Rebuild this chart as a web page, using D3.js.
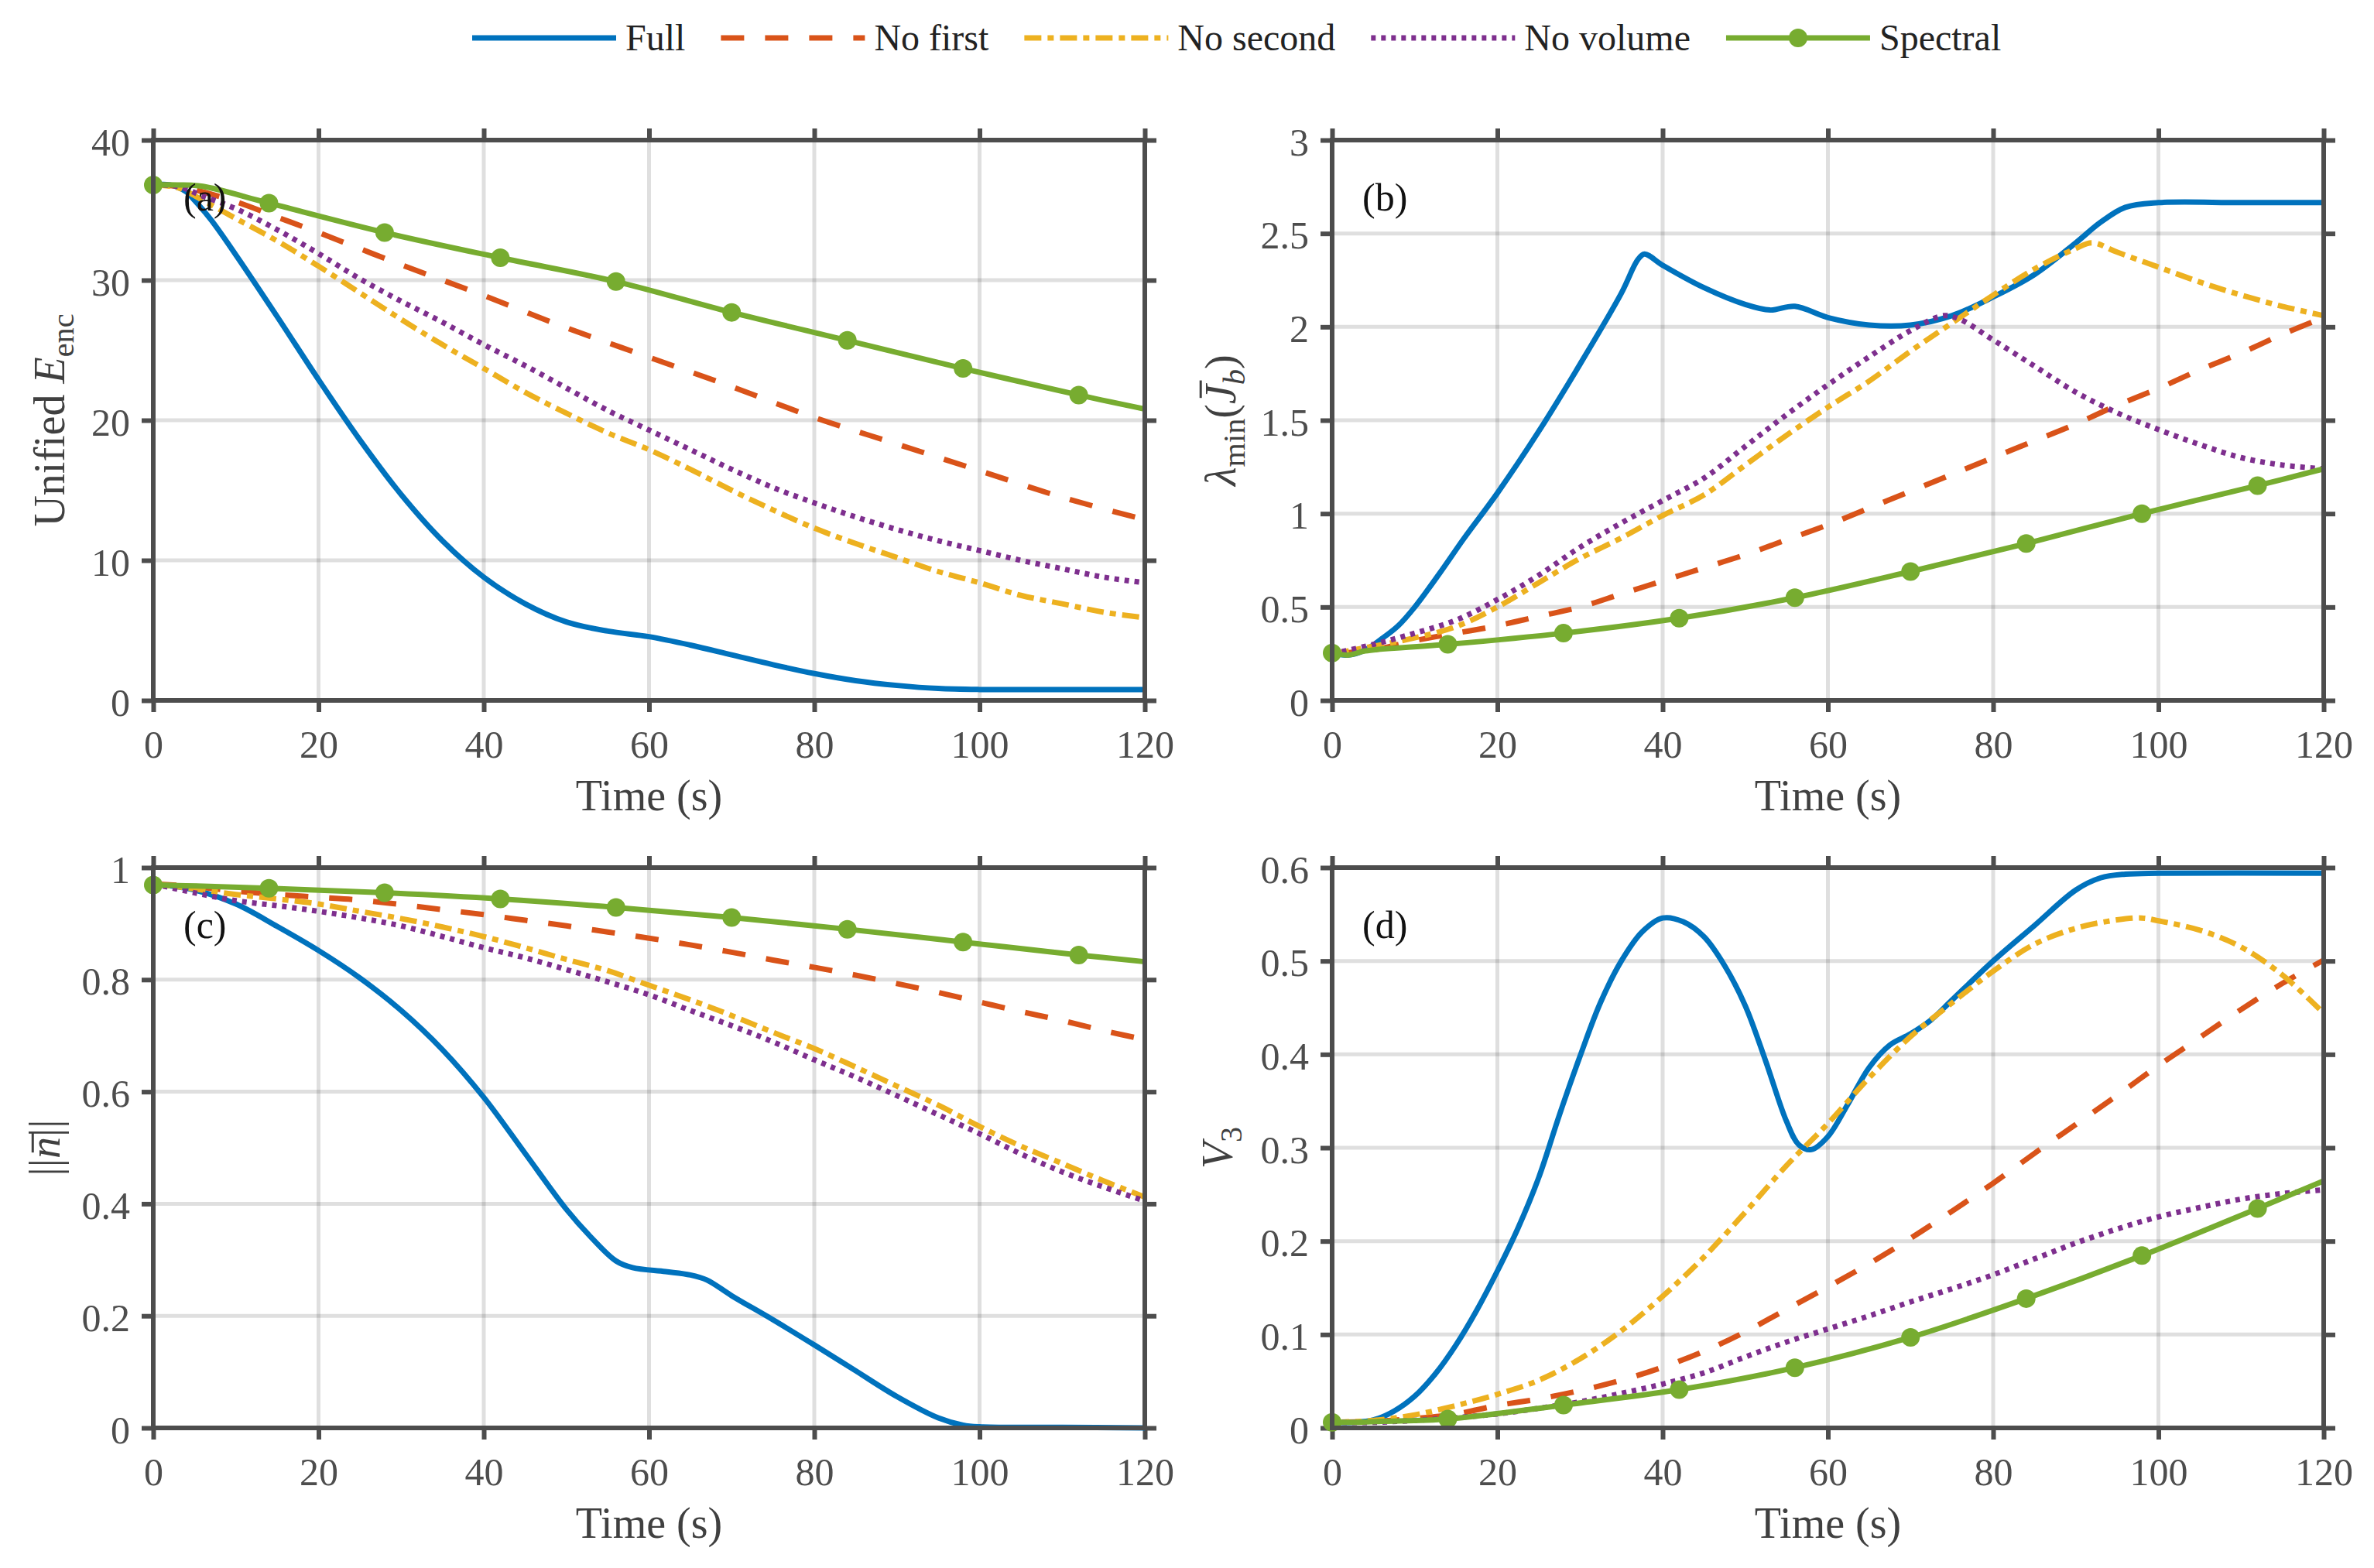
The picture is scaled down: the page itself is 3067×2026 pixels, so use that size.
<!DOCTYPE html>
<html>
<head>
<meta charset="utf-8">
<script src="https://cdn.jsdelivr.net/npm/d3@7"></script>
<style>
  html, body { margin: 0; padding: 0; background: #fff; }
  svg { display: block; font-family: "Liberation Serif", "Times New Roman", serif; }
</style>
</head>
<body>
<div id="chart"></div>
<script>
// ---- data: [time (s), value] ----
var legendNames = ["Full", "No first", "No second", "No volume", "Spectral"];
var xTicks = [0, 20, 40, 60, 80, 100, 120];

// (a) unified encirclement energy
var yTicksA = [0, 10, 20, 30, 40];
var fullA = [[0,36.8],[2,36.8],[4,36.3],[5,35.7],[7,34.3],[10,31.8],[15,27.4],[20,22.9],[25,18.6],[30,14.7],[35,11.4],[40,8.8],[45,6.9],[50,5.6],[55,4.95],[60,4.55],[65,3.95],[70,3.25],[75,2.55],[80,1.92],[85,1.41],[90,1.07],[95,0.85],[100,0.78],[110,0.78],[120,0.78]];
var noFirstA = [[0,36.8],[3,36.7],[6,36.3],[10,35.6],[15,34.5],[20,33.4],[30,31.1],[40,28.9],[50,26.6],[60,24.5],[70,22.4],[80,20.2],[90,18.3],[100,16.4],[110,14.5],[120,12.9]];
var noSecondA = [[0,36.8],[3,36.6],[6,35.7],[10,34.4],[15,32.8],[20,31.0],[25,29.1],[30,27.2],[35,25.4],[40,23.7],[45,22.0],[50,20.5],[55,19.1],[60,17.9],[65,16.5],[70,15.0],[75,13.6],[80,12.3],[85,11.2],[90,10.2],[95,9.2],[100,8.4],[105,7.5],[110,6.9],[115,6.3],[120,5.9]];
var noVolumeA = [[0,36.8],[3,36.7],[6,36.0],[10,35.1],[15,33.6],[20,31.9],[25,30.1],[30,28.5],[35,27.0],[40,25.4],[45,23.9],[50,22.3],[55,20.7],[60,19.3],[65,17.9],[70,16.5],[75,15.2],[80,14.1],[85,13.1],[90,12.2],[95,11.4],[100,10.7],[105,10.0],[110,9.4],[115,8.8],[120,8.4]];
var spectralA = [[0,36.8],[3,36.8],[6,36.7],[14,35.5],[28,33.4],[42,31.6],[56,29.9],[70,27.7],[84,25.7],[98,23.7],[112,21.8],[120,20.8]];

// (b) minimum eigenvalue
var yTicksB = [0, 0.5, 1, 1.5, 2, 2.5, 3];
var fullB = [[0,0.254],[2,0.243],[4,0.27],[6,0.33],[8,0.40],[10,0.50],[13,0.68],[16,0.87],[20,1.11],[25,1.44],[30,1.80],[35,2.18],[37,2.36],[37.8,2.39],[40,2.33],[45,2.21],[50,2.12],[53,2.09],[56,2.11],[60,2.05],[65,2.01],[70,2.01],[75,2.06],[80,2.16],[85,2.28],[90,2.45],[93,2.56],[96,2.64],[100,2.665],[110,2.665],[120,2.665]];
var noFirstB = [[0,0.25],[5,0.27],[10,0.32],[15,0.36],[20,0.40],[25,0.45],[30,0.50],[35,0.57],[40,0.64],[45,0.71],[50,0.78],[55,0.86],[60,0.94],[65,1.03],[70,1.12],[75,1.21],[80,1.30],[85,1.39],[90,1.48],[95,1.58],[100,1.67],[105,1.77],[110,1.86],[115,1.96],[120,2.05]];
var noSecondB = [[0,0.25],[5,0.29],[10,0.335],[15,0.395],[20,0.50],[25,0.63],[30,0.76],[35,0.87],[40,0.99],[45,1.10],[50,1.26],[55,1.42],[60,1.57],[65,1.71],[70,1.87],[75,2.02],[80,2.17],[85,2.31],[90,2.42],[92,2.45],[95,2.40],[100,2.32],[105,2.24],[110,2.17],[115,2.11],[120,2.06]];
var noVolumeB = [[0,0.25],[5,0.30],[10,0.36],[15,0.43],[20,0.54],[25,0.67],[30,0.82],[35,0.95],[40,1.07],[45,1.19],[50,1.36],[55,1.53],[60,1.69],[65,1.84],[70,1.98],[74,2.06],[76,2.04],[80,1.93],[85,1.79],[90,1.65],[95,1.54],[100,1.45],[105,1.37],[110,1.30],[115,1.26],[120,1.24]];
var spectralB = [[0,0.254],[2,0.243],[4,0.265],[14,0.30],[28,0.36],[42,0.44],[56,0.55],[70,0.69],[84,0.84],[98,1.0],[112,1.15],[120,1.24]];

// (c) norm of n-bar
var yTicksC = [0, 0.2, 0.4, 0.6, 0.8, 1];
var fullC = [[0,0.971],[5,0.960],[10,0.935],[15,0.895],[20,0.852],[25,0.803],[30,0.745],[35,0.675],[40,0.59],[45,0.49],[50,0.39],[53,0.34],[56,0.298],[58,0.286],[62,0.279],[65,0.273],[67,0.264],[70,0.236],[75,0.193],[80,0.148],[85,0.102],[90,0.056],[95,0.018],[98,0.005],[100,0.002],[110,0.001],[120,0.0]];
var noFirstC = [[0,0.971],[5,0.966],[10,0.958],[15,0.952],[20,0.947],[25,0.942],[30,0.934],[35,0.925],[40,0.916],[45,0.906],[50,0.896],[55,0.885],[60,0.874],[65,0.862],[70,0.849],[75,0.835],[80,0.822],[85,0.808],[90,0.793],[95,0.777],[100,0.760],[105,0.743],[110,0.727],[115,0.709],[120,0.693]];
var noSecondC = [[0,0.971],[5,0.962],[10,0.952],[15,0.944],[20,0.935],[25,0.922],[30,0.909],[35,0.894],[40,0.877],[45,0.857],[50,0.836],[55,0.816],[60,0.79],[65,0.764],[70,0.736],[75,0.706],[80,0.677],[85,0.644],[90,0.61],[95,0.576],[100,0.538],[105,0.503],[110,0.472],[115,0.441],[120,0.412]];
var noVolumeC = [[0,0.971],[5,0.955],[10,0.941],[15,0.932],[20,0.922],[25,0.91],[30,0.896],[35,0.877],[40,0.857],[45,0.839],[50,0.818],[55,0.796],[60,0.773],[65,0.745],[70,0.718],[75,0.689],[80,0.657],[85,0.626],[90,0.593],[95,0.559],[100,0.525],[105,0.489],[110,0.457],[115,0.43],[120,0.405]];
var spectralC = [[0,0.969],[3,0.968],[6,0.967],[14,0.963],[28,0.955],[42,0.944],[56,0.929],[70,0.911],[84,0.89],[98,0.867],[112,0.844],[120,0.832]];

// (d) V3
var yTicksD = [0, 0.1, 0.2, 0.3, 0.4, 0.5, 0.6];
var fullD = [[0,0.006],[2.5,0.006],[5,0.0085],[7.5,0.018],[10,0.034],[12.5,0.058],[15,0.089],[17.5,0.126],[20,0.168],[22.5,0.214],[25,0.268],[27.5,0.335],[30,0.398],[32.5,0.456],[35,0.50],[37.5,0.531],[40,0.546],[42.5,0.542],[45,0.526],[47.5,0.495],[50,0.452],[52.5,0.392],[55,0.328],[56.5,0.303],[58,0.298],[60,0.312],[62.5,0.348],[65,0.386],[67.5,0.41],[70,0.422],[72.5,0.437],[75,0.458],[80,0.50],[85,0.538],[90,0.576],[93,0.589],[96,0.593],[100,0.594],[120,0.594]];
var noFirstD = [[0,0.006],[5,0.007],[10,0.01],[15,0.015],[20,0.024],[25,0.031],[30,0.04],[35,0.051],[40,0.065],[45,0.082],[50,0.103],[55,0.127],[60,0.151],[65,0.176],[70,0.203],[75,0.232],[80,0.262],[85,0.294],[90,0.325],[95,0.356],[100,0.388],[105,0.418],[110,0.448],[115,0.476],[120,0.501]];
var noSecondD = [[0,0.006],[5,0.008],[10,0.014],[15,0.024],[20,0.036],[25,0.051],[30,0.074],[35,0.104],[40,0.141],[45,0.183],[50,0.231],[55,0.281],[60,0.326],[65,0.375],[70,0.419],[75,0.455],[80,0.489],[85,0.518],[90,0.535],[95,0.544],[98,0.546],[100,0.543],[105,0.533],[110,0.515],[115,0.485],[120,0.444]];
var noVolumeD = [[0,0.006],[5,0.006],[10,0.008],[15,0.011],[20,0.015],[25,0.021],[30,0.028],[35,0.037],[40,0.047],[45,0.059],[50,0.076],[55,0.092],[60,0.106],[65,0.12],[70,0.135],[75,0.149],[80,0.164],[85,0.181],[90,0.198],[95,0.213],[100,0.226],[105,0.236],[110,0.245],[115,0.251],[120,0.255]];
var spectralD = [[0,0.006],[3,0.006],[6,0.007],[14,0.0095],[28,0.0245],[42,0.041],[56,0.0645],[70,0.097],[84,0.1385],[98,0.1845],[112,0.235],[120,0.2645]];

// ---- styles ----
var colors = ["#0072BD", "#D95319", "#EDB120", "#7E2F8E", "#77AC30"];
var dashes = [null, "30,27", "22,8,8,8", "6,7", null];
var lineWidth = 7;
var axisColor = "#4d4d4d";
var labelColor = "#404040";
var fontFamily = '"Liberation Serif", "Times New Roman", serif';
var markerEvery = 14;

var width = 3067, height = 2026;
var pw = 1281, ph = 724;
var tickLen = 15;

var panels = [
  { label: "(a)", left: 198, top: 181, yTicks: yTicksA, data: [fullA, noFirstA, noSecondA, noVolumeA, spectralA],
    ylab: [{ t: "Unified " }, { t: "E", i: true }, { t: "enc", sub: true }], ylabOff: 115 },
  { label: "(b)", left: 1721, top: 181, yTicks: yTicksB, data: [fullB, noFirstB, noSecondB, noVolumeB, spectralB],
    ylab: [{ t: "\u03bb", i: true }, { t: "min", sub: true }, { t: "(" }, { t: "J", i: true, bar: true }, { t: "b", i: true, sub: true }, { t: ")" }], ylabOff: 125 },
  { label: "(c)", left: 198, top: 1121, yTicks: yTicksC, data: [fullC, noFirstC, noSecondC, noVolumeC, spectralC],
    ylab: [{ t: "||" }, { t: "n", i: true, bar: true }, { t: "||" }], ylabOff: 121 },
  { label: "(d)", left: 1721, top: 1121, yTicks: yTicksD, data: [fullD, noFirstD, noSecondD, noVolumeD, spectralD],
    ylab: [{ t: "V", i: true }, { t: "3", sub: true }], ylabOff: 129 }
];

var svg = d3.select("#chart").append("svg")
  .attr("width", width)
  .attr("height", height)
  .attr("font-family", fontFamily);

var fmt = d3.format("~g");

// writes mixed italic / subscript text, returns the indices of barred chars
function richText(text, parts, fs) {
  var shift = 0, idx = 0, bars = [];
  parts.forEach(function (p) {
    var ts = text.append("tspan").text(p.t);
    if (p.i) ts.attr("font-style", "italic");
    var want = p.sub ? 0.22 * fs : 0;
    if (want !== shift) { ts.attr("dy", want - shift); shift = want; }
    if (p.sub) ts.attr("font-size", fs * 0.72);
    if (p.bar) bars.push({ i: idx, h: p.t === "n" ? 0.62 : 0.8 });
    idx += p.t.length;
  });
  return bars;
}

panels.forEach(function (p) {
  var x = d3.scaleLinear().domain([0, 120]).range([0, pw]);
  var yMax = p.yTicks[p.yTicks.length - 1];
  var y = d3.scaleLinear().domain([0, yMax]).range([ph, 0]);

  var g = svg.append("g").attr("transform", "translate(" + p.left + "," + p.top + ")");

  // grid
  var grid = g.append("g").attr("stroke", "#262626").attr("stroke-opacity", 0.15).attr("stroke-width", 5);
  grid.selectAll(".gx").data(xTicks.slice(1, -1)).enter().append("line")
    .attr("x1", function (d) { return x(d); }).attr("x2", function (d) { return x(d); })
    .attr("y1", 0).attr("y2", ph);
  grid.selectAll(".gy").data(p.yTicks.slice(1, -1)).enter().append("line")
    .attr("y1", function (d) { return y(d); }).attr("y2", function (d) { return y(d); })
    .attr("x1", 0).attr("x2", pw);

  // axes, ticks outward on all four sides
  var axB = g.append("g").attr("transform", "translate(0," + ph + ")")
    .call(d3.axisBottom(x).tickValues(xTicks).tickSize(tickLen).tickSizeOuter(0).tickPadding(23).tickFormat(fmt));
  var axL = g.append("g")
    .call(d3.axisLeft(y).tickValues(p.yTicks).tickSize(tickLen).tickSizeOuter(0).tickPadding(15).tickFormat(fmt));
  var axT = g.append("g")
    .call(d3.axisTop(x).tickValues(xTicks).tickSize(tickLen).tickSizeOuter(0).tickFormat(""));
  var axR = g.append("g").attr("transform", "translate(" + pw + ",0)")
    .call(d3.axisRight(y).tickValues(p.yTicks).tickSize(tickLen).tickSizeOuter(0).tickFormat(""));
  [axB, axL, axT, axR].forEach(function (a) {
    a.select(".domain").remove();
    a.attr("font-family", fontFamily).attr("font-size", 50);
    a.selectAll("line").attr("stroke", axisColor).attr("stroke-width", 6);
    a.selectAll("text").attr("fill", axisColor);
  });
  axL.selectAll("text").attr("dy", "0.38em");

  // series
  var line = d3.line()
    .x(function (d) { return x(d[0]); })
    .y(function (d) { return y(d[1]); })
    .curve(d3.curveCatmullRom.alpha(0.5));

  p.data.forEach(function (s, k) {
    g.append("path")
      .datum(s)
      .attr("d", line)
      .attr("fill", "none")
      .attr("stroke", colors[k])
      .attr("stroke-width", lineWidth)
      .attr("stroke-dasharray", dashes[k]);
  });
  var spec = p.data[4];
  g.selectAll(".mk").data(spec.filter(function (d) { return d[0] % markerEvery === 0; }))
    .enter().append("circle")
    .attr("cx", function (d) { return x(d[0]); })
    .attr("cy", function (d) { return y(d[1]); })
    .attr("r", 12)
    .attr("fill", colors[4]);

  // box
  g.append("rect").attr("width", pw).attr("height", ph)
    .attr("fill", "none").attr("stroke", axisColor).attr("stroke-width", 6);

  // panel letter
  g.append("text").attr("x", 39).attr("y", 91)
    .attr("font-size", 50).attr("fill", "#111").text(p.label);

  // x label
  g.append("text").attr("x", pw / 2).attr("y", ph + 142)
    .attr("text-anchor", "middle").attr("font-size", 56).attr("fill", labelColor)
    .text("Time (s)");

  // y label
  var fs = 56;
  var yl = g.append("g").attr("transform", "translate(" + (-p.ylabOff) + "," + (ph / 2) + ") rotate(-90)");
  var yt = yl.append("text").attr("text-anchor", "middle").attr("font-size", fs).attr("fill", labelColor);
  var bars = richText(yt, p.ylab, fs);
  bars.forEach(function (b) {
    var s = yt.node().getStartPositionOfChar(b.i);
    var e = yt.node().getEndPositionOfChar(b.i);
    yl.append("line")
      .attr("x1", s.x + 0.14 * fs).attr("x2", e.x + 0.1 * fs)
      .attr("y1", s.y - b.h * fs).attr("y2", s.y - b.h * fs)
      .attr("stroke", labelColor).attr("stroke-width", 3);
  });
});

// legend across the top
var leg = svg.append("g").attr("transform", "translate(610,49)");
var lx = 0;
legendNames.forEach(function (name, k) {
  var it = leg.append("g").attr("transform", "translate(" + lx + ",0)");
  it.append("line").attr("x1", 0).attr("x2", 186)
    .attr("stroke", colors[k]).attr("stroke-width", lineWidth)
    .attr("stroke-dasharray", dashes[k]);
  if (k === 4) it.append("circle").attr("cx", 93).attr("r", 12).attr("fill", colors[k]);
  var t = it.append("text").attr("x", 198).attr("dy", "0.33em")
    .attr("font-size", 48).attr("fill", "#222").text(name);
  lx += 198 + t.node().getComputedTextLength() + 46;
});
</script>
</body>
</html>
